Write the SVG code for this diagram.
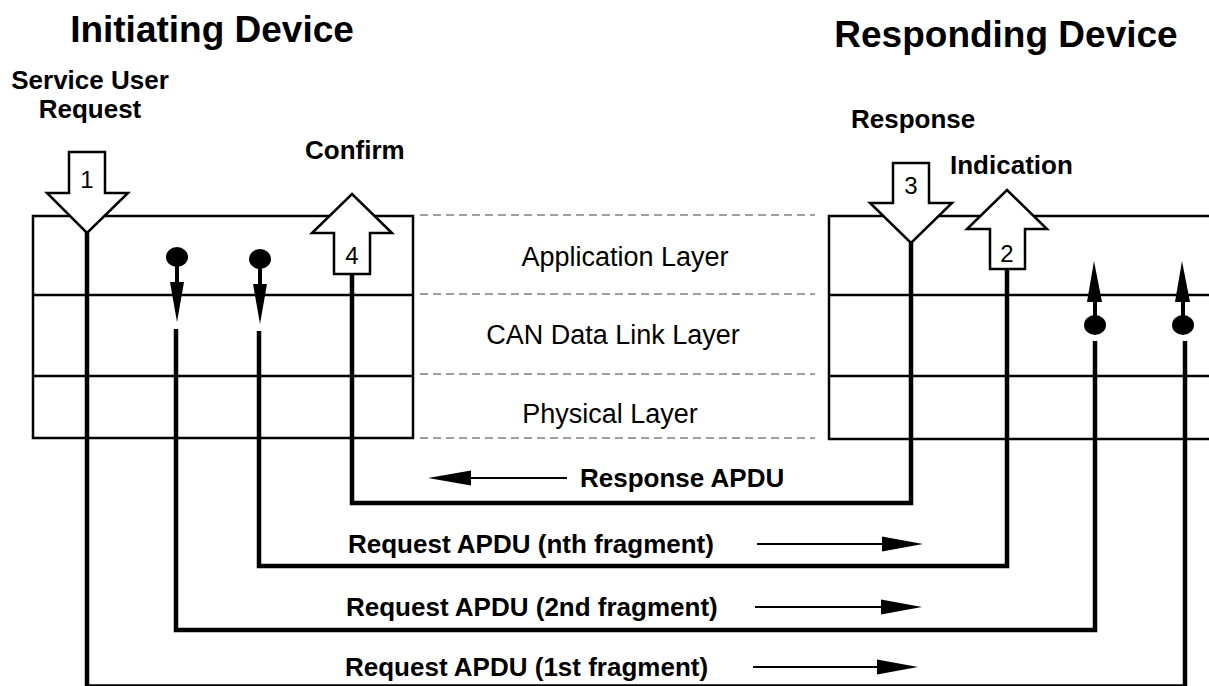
<svg xmlns="http://www.w3.org/2000/svg" width="1209" height="686" viewBox="0 0 1209 686">
  <style>
    text { font-family: "Liberation Sans", Arial, sans-serif; fill: #000; }
    .title { font-size: 37px; font-weight: bold; text-anchor: middle; }
    .lbl { font-size: 26px; font-weight: bold; }
    .layer { font-size: 27px; text-anchor: middle; }
    .num { font-size: 24px; text-anchor: middle; }
    .box { fill: none; stroke: #000; stroke-width: 2.5; }
    .sep { stroke: #000; stroke-width: 2.5; }
    .dash { stroke: #808080; stroke-width: 1.5; stroke-dasharray: 8 5; }
    .block { fill: #fff; stroke: #000; stroke-width: 2.5; stroke-linejoin: miter; }
    .flow { fill: none; stroke: #000; stroke-width: 4.5; }
    .stub { stroke: #000; stroke-width: 4; }
    .thin { stroke: #000; stroke-width: 2.2; }
    .head { fill: #000; }
  </style>

  <!-- titles -->
  <text class="title" x="212" y="42">Initiating Device</text>
  <text class="title" x="1006" y="47">Responding Device</text>

  <!-- initiating device protocol stack -->
  <g id="initiating-stack">
    <rect class="box" x="33" y="216" width="380" height="222"/>
    <line class="sep" x1="33" y1="295" x2="413" y2="295"/>
    <line class="sep" x1="33" y1="376" x2="413" y2="376"/>
  </g>

  <!-- responding device protocol stack (runs off the right edge) -->
  <g id="responding-stack">
    <rect class="box" x="829" y="216" width="400" height="223"/>
    <line class="sep" x1="829" y1="295" x2="1215" y2="295"/>
    <line class="sep" x1="829" y1="376" x2="1215" y2="376"/>
  </g>

  <!-- layer names between the stacks -->
  <g id="layers">
    <line class="dash" x1="420" y1="215" x2="815" y2="215"/>
    <line class="dash" x1="420" y1="294" x2="815" y2="294"/>
    <line class="dash" x1="420" y1="374" x2="815" y2="374"/>
    <line class="dash" x1="420" y1="438" x2="815" y2="438"/>
    <text class="layer" x="625" y="266">Application Layer</text>
    <text class="layer" x="613" y="344">CAN Data Link Layer</text>
    <text class="layer" x="610" y="423">Physical Layer</text>
  </g>

  <!-- connectors -->
  <g id="connectors">
    <!-- 1st fragment (bottom run sits on the lower edge) -->
    <path class="flow" d="M87,232 V686.5 H1185 V341"/>
    <!-- 2nd fragment -->
    <path class="flow" d="M176,329 V630 H1095 V341"/>
    <!-- nth fragment -->
    <path class="flow" d="M259,331 V566 H1007 V268"/>
    <!-- response -->
    <path class="flow" d="M911,242 V503 H352 V273"/>

    <!-- initiating side: segment handed down to the data link layer -->
    <ellipse class="head" cx="177" cy="257" rx="11" ry="10"/>
    <line class="stub" x1="177" y1="257" x2="177" y2="285"/>
    <polygon class="head" points="170,282 184,282 177,322"/>
    <ellipse class="head" cx="260" cy="259" rx="11" ry="10"/>
    <line class="stub" x1="260" y1="259" x2="260" y2="287"/>
    <polygon class="head" points="253,284 267,284 260,324"/>

    <!-- responding side: segment passed up to the application layer -->
    <ellipse class="head" cx="1095" cy="325" rx="11" ry="10"/>
    <line class="stub" x1="1095" y1="325" x2="1095" y2="298"/>
    <polygon class="head" points="1087,302 1102,302 1094,261"/>
    <ellipse class="head" cx="1183" cy="325" rx="11" ry="10"/>
    <line class="stub" x1="1183" y1="325" x2="1183" y2="298"/>
    <polygon class="head" points="1175,302 1190,302 1182,261"/>

    <!-- direction arrows beside the APDU labels -->
    <line class="thin" x1="468" y1="478" x2="567" y2="478"/>
    <polygon class="head" points="428,478 471,470.5 471,485.5"/>
    <line class="thin" x1="757" y1="544" x2="884" y2="544"/>
    <polygon class="head" points="882,536.5 923,544 882,551.5"/>
    <line class="thin" x1="755" y1="607" x2="883" y2="607"/>
    <polygon class="head" points="881,599.5 922,607 881,614.5"/>
    <line class="thin" x1="753" y1="667" x2="879" y2="667"/>
    <polygon class="head" points="877,659.5 918,667 877,674.5"/>
  </g>

  <!-- APDU labels -->
  <g id="apdu-labels">
    <text class="lbl" x="580" y="487">Response APDU</text>
    <text class="lbl" x="348" y="553">Request APDU (nth fragment)</text>
    <text class="lbl" x="346" y="616">Request APDU (2nd fragment)</text>
    <text class="lbl" x="345" y="676">Request APDU (1st fragment)</text>
  </g>

  <!-- service primitives -->
  <g id="prim-request">
    <text class="lbl" x="90" y="89" text-anchor="middle">Service User</text>
    <text class="lbl" x="90" y="118" text-anchor="middle">Request</text>
    <polygon class="block" points="69,152 105,152 105,193 128,193 87,233 47,193 69,193"/>
    <text class="num" x="87" y="188">1</text>
  </g>

  <g id="prim-confirm">
    <text class="lbl" x="305" y="159">Confirm</text>
    <polygon class="block" points="352,194 392,233 370,233 370,274 334,274 334,233 312,233"/>
    <text class="num" x="352" y="264">4</text>
  </g>

  <g id="prim-response">
    <text class="lbl" x="851" y="128">Response</text>
    <polygon class="block" points="893,163 929,163 929,203 952,203 911,243 870,203 893,203"/>
    <text class="num" x="911" y="194">3</text>
  </g>

  <g id="prim-indication">
    <text class="lbl" x="950" y="174">Indication</text>
    <polygon class="block" points="1007,190 1047,229 1025,229 1025,269 990,269 990,229 967,229"/>
    <text class="num" x="1007" y="262">2</text>
  </g>
</svg>
